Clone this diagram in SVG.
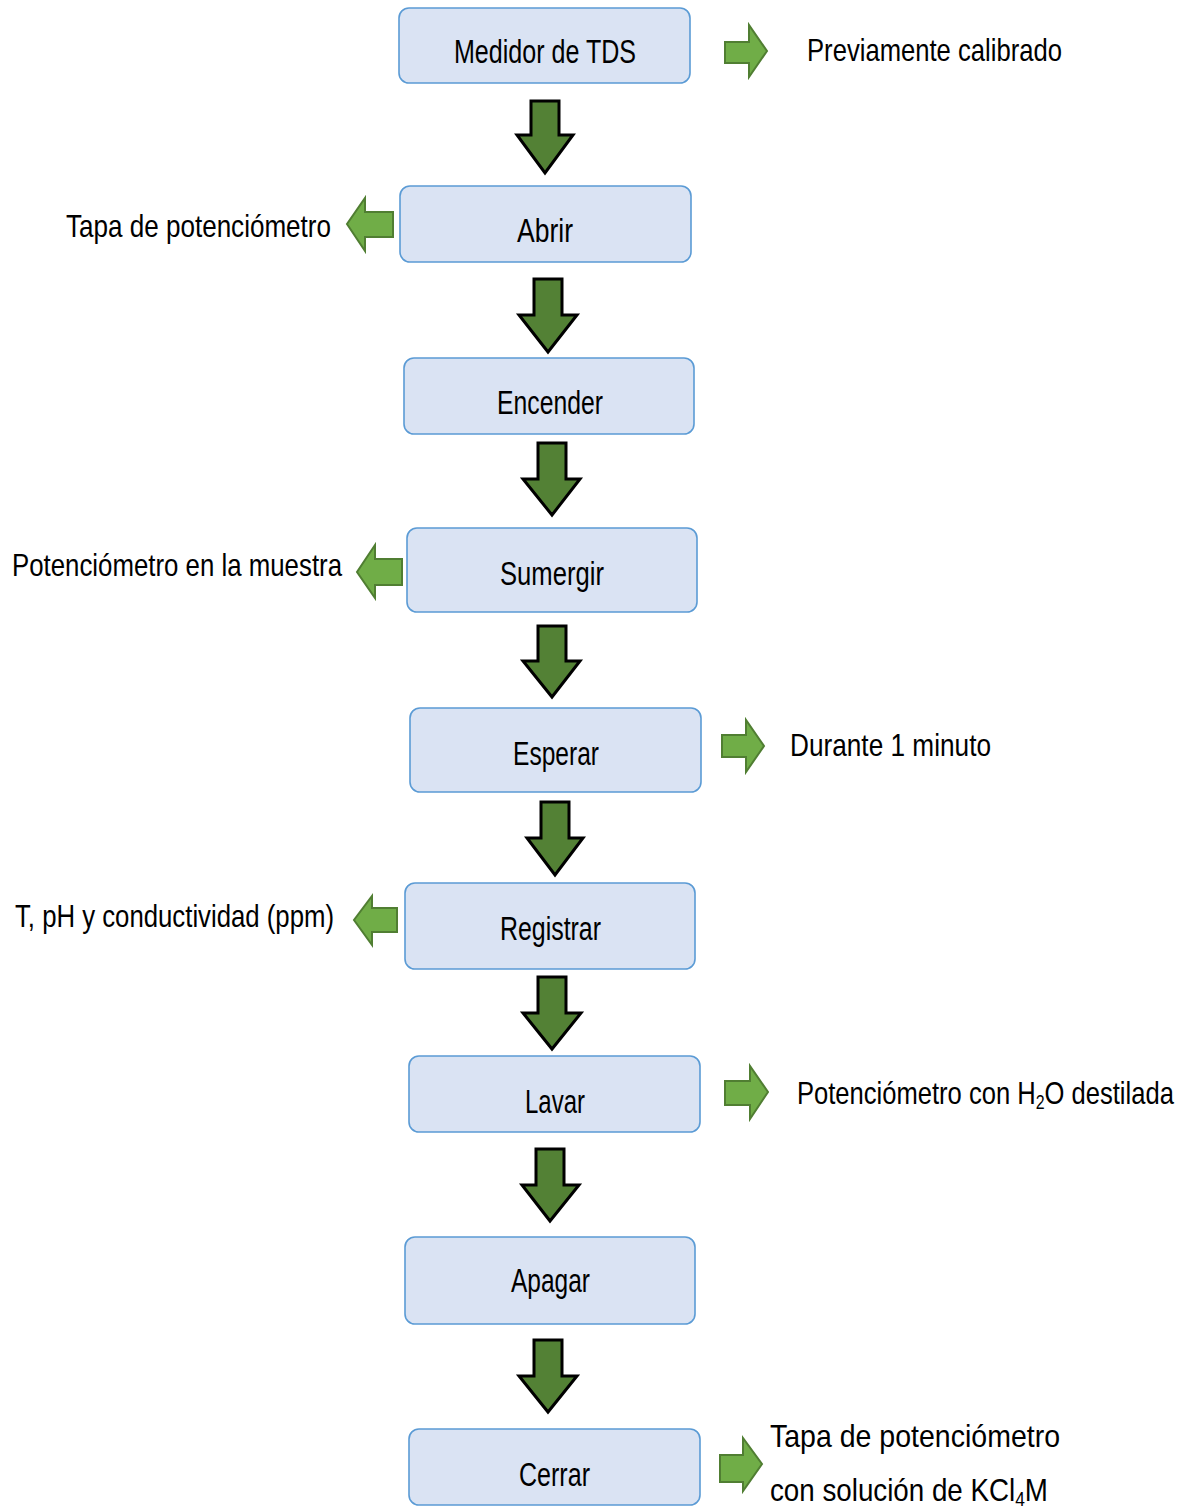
<svg xmlns="http://www.w3.org/2000/svg" width="1186" height="1508" viewBox="0 0 1186 1508">
<style>
.box{fill:#DAE3F3;stroke:#5B9BD5;stroke-width:1.6}
.t{font-family:"Liberation Sans",Arial,sans-serif;font-size:33px;fill:#000}
.s{font-family:"Liberation Sans",Arial,sans-serif;font-size:32px;fill:#000}
.down{fill:#538135;stroke:#000;stroke-width:3;stroke-linejoin:miter}
.side{fill:#70AD47;stroke:#507E32;stroke-width:2}
</style>
<rect width="1186" height="1508" fill="#fff"/>
<g id="connectors">
<path class="down" d="M531,101 H559 V135 H573 L545,173 L517,135 H531 Z"/>
<path class="down" d="M534,279 H562 V315 H577 L548,352 L519,315 H534 Z"/>
<path class="down" d="M538,443 H566 V479 H580 L552,515 L523,479 H538 Z"/>
<path class="down" d="M538,626 H566 V661 H580 L552,697 L523,661 H538 Z"/>
<path class="down" d="M541,802 H569 V838 H583 L555,875 L527,838 H541 Z"/>
<path class="down" d="M538,977 H566 V1013 H581 L552,1049 L523,1013 H538 Z"/>
<path class="down" d="M536,1149 H564 V1185 H579 L550,1221 L522,1185 H536 Z"/>
<path class="down" d="M534,1340 H562 V1376 H577 L548,1412 L519,1376 H534 Z"/>
<path class="side" d="M725,42 H749 V25 L767,51 L749,77 V63 H725 Z"/>
<path class="side" d="M393,212 H365 V198 L347,224 L365,251 V237 H393 Z"/>
<path class="side" d="M402,559 H375 V545 L357,572 L375,598 V585 H402 Z"/>
<path class="side" d="M722,735 H746 V720 L764,746 L746,772 V757 H722 Z"/>
<path class="side" d="M397,908 H372 V896 L354,920 L372,945 V932 H397 Z"/>
<path class="side" d="M725,1081 H750 V1066 L768,1092 L750,1119 V1105 H725 Z"/>
<path class="side" d="M720,1455 H743 V1438 L762,1464 L743,1491 V1482 H720 Z"/>
</g>
<g id="n1"><rect class="box" x="399" y="8" width="291" height="75" rx="10"/><text class="t" x="454" y="63" textLength="182" lengthAdjust="spacingAndGlyphs">Medidor de TDS</text></g>
<g id="n1note"><text class="s" x="807" y="61" textLength="255" lengthAdjust="spacingAndGlyphs">Previamente calibrado</text></g>
<g id="n2"><rect class="box" x="400" y="186" width="291" height="76" rx="10"/><text class="t" x="517" y="242" textLength="56" lengthAdjust="spacingAndGlyphs">Abrir</text></g>
<g id="n2note"><text class="s" x="66" y="237" textLength="265" lengthAdjust="spacingAndGlyphs">Tapa de potenciómetro</text></g>
<g id="n3"><rect class="box" x="404" y="358" width="290" height="76" rx="10"/><text class="t" x="497" y="414" textLength="106" lengthAdjust="spacingAndGlyphs">Encender</text></g>
<g id="n4"><rect class="box" x="407" y="528" width="290" height="84" rx="10"/><text class="t" x="500" y="585" textLength="104" lengthAdjust="spacingAndGlyphs">Sumergir</text></g>
<g id="n4note"><text class="s" x="12" y="576" textLength="330" lengthAdjust="spacingAndGlyphs">Potenciómetro en la muestra</text></g>
<g id="n5"><rect class="box" x="410" y="708" width="291" height="84" rx="10"/><text class="t" x="513" y="765" textLength="86" lengthAdjust="spacingAndGlyphs">Esperar</text></g>
<g id="n5note"><text class="s" x="790" y="756" textLength="201" lengthAdjust="spacingAndGlyphs">Durante 1 minuto</text></g>
<g id="n6"><rect class="box" x="405" y="883" width="290" height="86" rx="10"/><text class="t" x="500" y="940" textLength="101" lengthAdjust="spacingAndGlyphs">Registrar</text></g>
<g id="n6note"><text class="s" x="15" y="927" textLength="319" lengthAdjust="spacingAndGlyphs">T, pH y conductividad (ppm)</text></g>
<g id="n7"><rect class="box" x="409" y="1056" width="291" height="76" rx="10"/><text class="t" x="525" y="1113" textLength="60" lengthAdjust="spacingAndGlyphs">Lavar</text></g>
<g id="n7note"><text class="s" transform="translate(797,1104) scale(0.799,1)" x="0" y="0">Potenciómetro con H<tspan font-size="20" dy="5">2</tspan><tspan dy="-5">O destilada</tspan></text></g>
<g id="n8"><rect class="box" x="405" y="1237" width="290" height="87" rx="10"/><text class="t" x="511" y="1292" textLength="79" lengthAdjust="spacingAndGlyphs">Apagar</text></g>
<g id="n9"><rect class="box" x="409" y="1429" width="291" height="76" rx="10"/><text class="t" x="519" y="1486" textLength="71" lengthAdjust="spacingAndGlyphs">Cerrar</text></g>
<g id="n9note"><text class="s" x="770" y="1447" textLength="290" lengthAdjust="spacingAndGlyphs">Tapa de potenciómetro</text><text class="s" transform="translate(770,1501) scale(0.867,1)" x="0" y="0">con solución de KCl<tspan font-size="20" dy="5">4</tspan><tspan dy="-5">M</tspan></text></g>
</svg>
